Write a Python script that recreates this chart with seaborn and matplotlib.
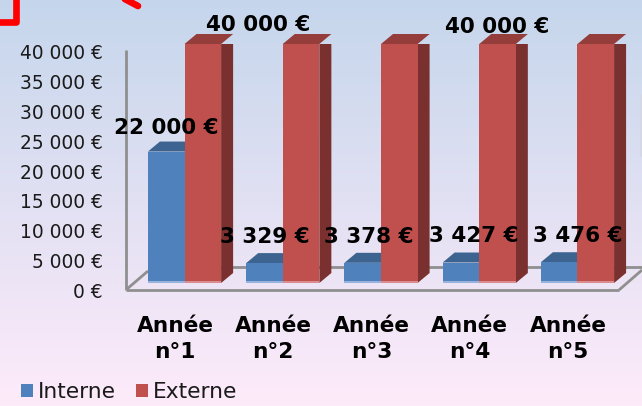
import numpy as np
import pandas as pd
import matplotlib
matplotlib.use("Agg")
import matplotlib.pyplot as plt
from matplotlib.colors import to_rgb
from matplotlib.lines import Line2D
from matplotlib.patches import Polygon, Rectangle
from matplotlib.transforms import Affine2D, ScaledTranslation
import seaborn as sns

# ---- data
years = ["Année\nn°1", "Année\nn°2", "Année\nn°3", "Année\nn°4", "Année\nn°5"]
interne = [22000, 3329, 3378, 3427, 3476]
externe = [40000, 40000, 40000, 40000, 40000]
series = ["Interne", "Externe"]
colors = ["#4F81BD", "#C0504D"]
top_colors = ["#3D6491", "#943D3A"]
side_colors = ["#2F4F74", "#7A302E"]
foot_colors = ["#97B3DC", "#DB8C8C"]
yticks = [0, 5000, 10000, 15000, 20000, 25000, 30000, 35000, 40000]

# ---- layout (pixels)
W, H = 642, 406
ax_left, ax_right, ax_top, ax_bottom = 135.4, 626.6, 44, 283
depth_px = (12, 10)
label_spots = [(166, 128, interne[0]), (258, 25, externe[0]), (265, 237, interne[1]),
               (369, 237, interne[2]), (474, 236, interne[3]), (578, 236, interne[4]),
               (497, 27, externe[3])]

def money(v):
    return f"{v:,}".replace(",", " ") + " €"

sns.set_theme(style="white")
plt.rcParams["font.family"] = ["DejaVu Sans"]
fig = plt.figure(figsize=((W + 0.01) / 100, (H + 0.01) / 100), dpi=100)
px = Affine2D().scale(1, -1).translate(0, H)

# background gradient
bg = fig.add_axes([0, 0, 1, 1], zorder=0)
bg.axis("off")
c0, c1 = np.array(to_rgb("#C5D6EC")), np.array(to_rgb("#FEEBFA"))
t = np.linspace(0, 1, 256)[:, None, None]
bg.imshow(c0 * (1 - t) + c1 * t, aspect="auto", extent=(0, 1, 0, 1), interpolation="bilinear")

# 3D frame behind the bars
frame = [
    ([126, 126], [50, 290]),
    ([126, 619], [290, 290]),
    ([127, 148], [289, 271]),
    ([148, 642], [266.5, 266.5]),
    ([619, 642], [290, 270]),
]
for xs, ys in frame:
    fig.add_artist(Line2D(xs, ys, transform=px, color="#8F8F8F", lw=2.0, solid_capstyle="butt", zorder=1))
# faint shape on the right edge
fig.add_artist(Rectangle((640, 95), 3, 62, transform=px, color="#D4D7E6", lw=0, zorder=1))

# main axes
ax = fig.add_axes([ax_left / W, 1 - ax_bottom / H, (ax_right - ax_left) / W, (ax_bottom - ax_top) / H], zorder=2)
ax.patch.set_alpha(0)
df = pd.DataFrame({
    "Année": years * 2,
    "Montant": interne + externe,
    "Type": [series[0]] * len(years) + [series[1]] * len(years),
})
sns.barplot(data=df, x="Année", y="Montant", hue="Type", hue_order=series, palette=colors,
            width=0.745, gap=0, saturation=1, ax=ax, legend=True, zorder=3, linewidth=0, edgecolor="none")
ax.set_xlim(-0.5, 4.5)
ax.set_ylim(0, 40000)
ax.set_xlabel("")
ax.set_ylabel("")
for s in ax.spines.values():
    s.set_visible(False)
ax.set_yticks(yticks, [money(v) for v in yticks])
ax.tick_params(axis="y", length=0, pad=32.4 * 0.72, labelsize=13.4, labelcolor="#1A1A1A")
ax.tick_params(axis="x", length=0, pad=0, labelsize=15.6, labelcolor="#000000")
for lab in ax.get_yticklabels():
    lab.set_transform(lab.get_transform() + ScaledTranslation(0, -7.5 / 100, fig.dpi_scale_trans))
for lab in ax.get_xticklabels():
    lab.set_fontweight("bold")
    lab.set_linespacing(1.38)
    lab.set_transform(lab.get_transform() + ScaledTranslation(-9.5 / 100, -33 / 100, fig.dpi_scale_trans))

# extrude the bars along the depth direction
dx = depth_px[0] * 5 / (ax_right - ax_left)
dy = depth_px[1] * 40000 / (ax_bottom - ax_top)
bars = [p for p in ax.patches if isinstance(p, Rectangle) and p.get_height() > 0]
n = len(years)
for i, bar in enumerate(bars[:2 * n]):
    k = 0 if i < n else 1
    x0, w, h = bar.get_x(), bar.get_width(), bar.get_height()
    x1 = x0 + w
    ax.add_patch(Polygon([(x1, 0), (x1 + dx, dy), (x1 + dx, h + dy), (x1, h)], closed=True,
                         fc=side_colors[k], lw=0, zorder=2.8 + k * 0.1))
    ax.add_patch(Polygon([(x0, h), (x0 + dx, h + dy), (x1 + dx, h + dy), (x1, h)], closed=True,
                         fc=top_colors[k], lw=0, clip_on=False, zorder=2.8 + k * 0.1))
    bar.set_zorder(3 + k * 0.1)
    ax.add_patch(Rectangle((x0, 0), w, 400, fc=foot_colors[k], lw=0, zorder=3.05 + k * 0.1))

# legend
sns.move_legend(ax, "lower left", bbox_to_anchor=(21 / W, 4 / H), bbox_transform=fig.transFigure,
                ncol=2, title=None, frameon=False, fontsize=15.7, handlelength=0.56, handleheight=0.56,
                handletextpad=0.23, columnspacing=0.9, borderpad=0, borderaxespad=0)
leg = ax.get_legend()
leg.set_zorder(6)
for txt in leg.get_texts():
    txt.set_color("#1A1A1A")

# value labels
for x, y, v in label_spots:
    fig.text(x, y, money(v), transform=px, ha="center", va="center", fontsize=15.5, fontweight="bold",
             color="black", zorder=10)

# red arrow fragments at the top
for xs, ys in [([-3, 15.5, 15.5], [22, 22, -3]), ([121, 138], [-3, 6])]:
    fig.add_artist(Line2D(xs, ys, transform=px, color="#FF0000", lw=4.8, solid_capstyle="round",
                          solid_joinstyle="round", zorder=9))

fig.savefig("out.png", dpi=100)
